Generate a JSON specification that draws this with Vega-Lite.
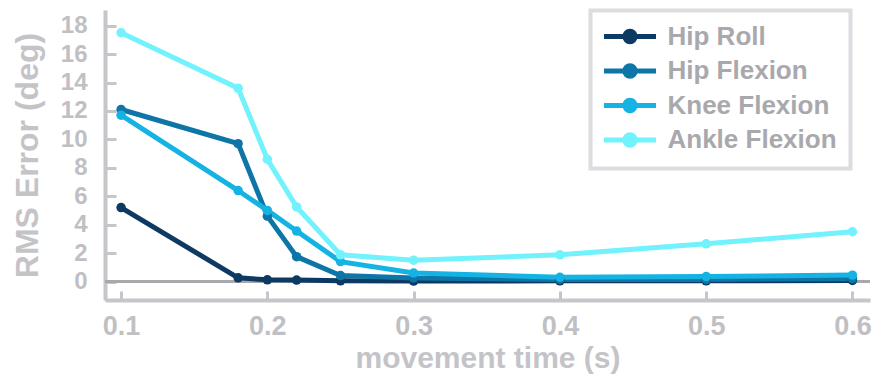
{
  "$schema": "https://vega.github.io/schema/vega-lite/v6.json",
  "width": 765,
  "height": 290,
  "autosize": {"type": "none"},
  "padding": {"left": 105, "top": 10, "right": 6, "bottom": 77},
  "background": "white",
  "config": {
    "font": "Liberation Sans",
    "view": {"stroke": null},
    "axis": {
      "grid": false,
      "domainColor": "#c6c6ca",
      "domainWidth": 4,
      "tickColor": "#c6c6ca",
      "tickWidth": 3,
      "labelFont": "Liberation Sans",
      "labelFontWeight": "bold",
      "labelColor": "#c0c0c4",
      "labelOverlap": false,
      "labelBound": false,
      "labelFlush": false,
      "titleFont": "Liberation Sans",
      "titleFontWeight": "bold",
      "titleColor": "#c4c4c8"
    }
  },
  "data": {
    "values": [
      {"t": 0.1, "err": 5.2, "joint": "Hip Roll"},
      {"t": 0.18, "err": 0.26, "joint": "Hip Roll"},
      {"t": 0.2, "err": 0.12, "joint": "Hip Roll"},
      {"t": 0.22, "err": 0.1, "joint": "Hip Roll"},
      {"t": 0.25, "err": 0.05, "joint": "Hip Roll"},
      {"t": 0.3, "err": 0.03, "joint": "Hip Roll"},
      {"t": 0.4, "err": 0.05, "joint": "Hip Roll"},
      {"t": 0.5, "err": 0.05, "joint": "Hip Roll"},
      {"t": 0.6, "err": 0.08, "joint": "Hip Roll"},
      {"t": 0.1, "err": 12.1, "joint": "Hip Flexion"},
      {"t": 0.18, "err": 9.7, "joint": "Hip Flexion"},
      {"t": 0.2, "err": 4.6, "joint": "Hip Flexion"},
      {"t": 0.22, "err": 1.75, "joint": "Hip Flexion"},
      {"t": 0.25, "err": 0.42, "joint": "Hip Flexion"},
      {"t": 0.3, "err": 0.25, "joint": "Hip Flexion"},
      {"t": 0.4, "err": 0.15, "joint": "Hip Flexion"},
      {"t": 0.5, "err": 0.15, "joint": "Hip Flexion"},
      {"t": 0.6, "err": 0.2, "joint": "Hip Flexion"},
      {"t": 0.1, "err": 11.7, "joint": "Knee Flexion"},
      {"t": 0.18, "err": 6.4, "joint": "Knee Flexion"},
      {"t": 0.2, "err": 5.0, "joint": "Knee Flexion"},
      {"t": 0.22, "err": 3.55, "joint": "Knee Flexion"},
      {"t": 0.25, "err": 1.4, "joint": "Knee Flexion"},
      {"t": 0.3, "err": 0.6, "joint": "Knee Flexion"},
      {"t": 0.4, "err": 0.3, "joint": "Knee Flexion"},
      {"t": 0.5, "err": 0.35, "joint": "Knee Flexion"},
      {"t": 0.6, "err": 0.45, "joint": "Knee Flexion"},
      {"t": 0.1, "err": 17.5, "joint": "Ankle Flexion"},
      {"t": 0.18, "err": 13.6, "joint": "Ankle Flexion"},
      {"t": 0.2, "err": 8.6, "joint": "Ankle Flexion"},
      {"t": 0.22, "err": 5.25, "joint": "Ankle Flexion"},
      {"t": 0.25, "err": 1.88, "joint": "Ankle Flexion"},
      {"t": 0.3, "err": 1.5, "joint": "Ankle Flexion"},
      {"t": 0.4, "err": 1.88, "joint": "Ankle Flexion"},
      {"t": 0.5, "err": 2.65, "joint": "Ankle Flexion"},
      {"t": 0.6, "err": 3.5, "joint": "Ankle Flexion"}
    ]
  },
  "resolve": {"axis": {"x": "independent", "y": "independent"}},
  "layer": [
    {
      "description": "zero reference line; its y axis only draws the inward ticks along the left edge",
      "mark": {"type": "rule", "color": "#a9a9ad", "strokeWidth": 1.5},
      "encoding": {
        "y": {
          "datum": 0,
          "type": "quantitative",
          "axis": {
            "orient": "right",
            "offset": -765,
            "values": [0, 2, 4, 6, 8, 10, 12, 14, 16, 18],
            "domain": false,
            "labels": false,
            "title": null,
            "ticks": true,
            "tickSize": 11
          }
        }
      }
    },
    {
      "mark": {"type": "line", "strokeWidth": 5},
      "encoding": {
        "x": {
          "field": "t",
          "type": "quantitative",
          "scale": {"domain": [0.089, 0.612], "nice": false, "zero": false},
          "axis": {
            "values": [0.1, 0.2, 0.3, 0.4, 0.5, 0.6],
            "format": ".1f",
            "title": "movement time (s)",
            "ticks": false,
            "labelFontSize": 27,
            "labelPadding": 13,
            "titleFontSize": 30,
            "titlePadding": 4
          }
        },
        "y": {
          "field": "err",
          "type": "quantitative",
          "scale": {"domain": [-1.3, 19.1], "nice": false, "zero": false},
          "axis": {
            "values": [0, 2, 4, 6, 8, 10, 12, 14, 16, 18],
            "title": "RMS Error (deg)",
            "ticks": false,
            "labelOverlap": false,
            "labelFontSize": 24,
            "labelPadding": 18,
            "titleFontSize": 32,
            "titlePadding": 16
          }
        },
        "color": {
          "field": "joint",
          "type": "nominal",
          "sort": ["Hip Roll", "Hip Flexion", "Knee Flexion", "Ankle Flexion"],
          "scale": {"range": ["#0d3a62", "#0e76a6", "#15b3e3", "#72f2fc"]},
          "legend": {
            "title": null,
            "orient": "none",
            "legendX": 485.5,
            "legendY": 0.5,
            "padding": 13,
            "strokeColor": "#dcdce1",
            "fillColor": "white",
            "symbolType": "M-1.25,0H3.95M0.83,0A0.52,0.52,0,1,0,1.87,0A0.52,0.52,0,1,0,0.83,0",
            "symbolSize": 400,
            "symbolStrokeWidth": 5,
            "labelFont": "Liberation Sans",
            "labelFontSize": 26,
            "labelFontWeight": "bold",
            "labelColor": "#a9a9ad",
            "labelOffset": 38,
            "labelLimit": 300,
            "rowPadding": 2.5,
            "encode": {
              "legend": {"update": {"strokeWidth": {"value": 4}}},
              "symbols": {"update": {"fill": {"scale": "color", "field": "value"}, "opacity": {"value": 1}}}
            }
          }
        }
      }
    },
    {
      "description": "data points; the x axis of this layer only draws the inward ticks along the bottom edge",
      "mark": {"type": "point", "size": 90, "filled": true, "opacity": 1},
      "encoding": {
        "x": {
          "field": "t",
          "type": "quantitative",
          "axis": {
            "orient": "top",
            "offset": -290,
            "values": [0.1, 0.2, 0.3, 0.4, 0.5, 0.6],
            "domain": false,
            "labels": false,
            "title": null,
            "ticks": true,
            "tickSize": 9
          }
        },
        "y": {"field": "err", "type": "quantitative", "axis": null},
        "color": {"field": "joint", "type": "nominal", "sort": ["Hip Roll", "Hip Flexion", "Knee Flexion", "Ankle Flexion"]}
      }
    }
  ]
}
